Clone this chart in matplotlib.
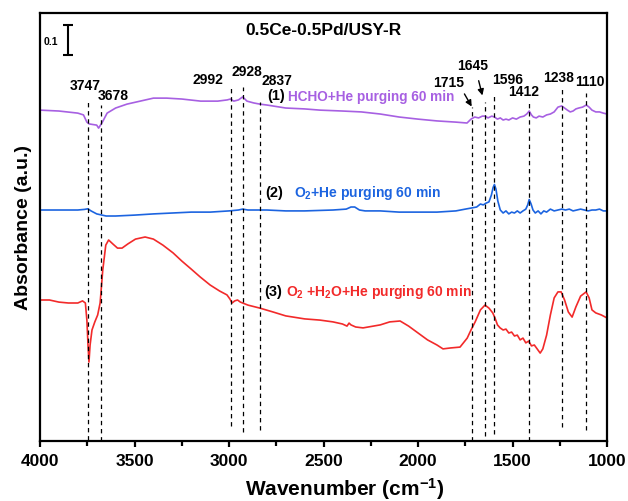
"""
In-situ DRIFTS spectra of 0.5Ce-0.5Pd/USY-R after the different purging steps.
"""

import matplotlib
matplotlib.use("Agg")
import matplotlib.pyplot as plt
import numpy as np

plt.rcParams["font.family"] = ["Liberation Sans", "DejaVu Sans"]
plt.rcParams["font.weight"] = "bold"
plt.rcParams["mathtext.fontset"] = "custom"
plt.rcParams["mathtext.default"] = "bf"
plt.rcParams["mathtext.bf"] = "Liberation Sans:bold"
plt.rcParams["mathtext.rm"] = "Liberation Sans:bold"

# (1) HCHO+He purging 60 min
wn_hcho = [4000, 3900, 3800, 3770, 3752, 3740, 3720, 3700, 3690, 3670, 3645, 3600,
           3540, 3470, 3400, 3330, 3250, 3150, 3060, 3010, 2992, 2975, 2950, 2928,
           2905, 2870, 2837, 2800, 2700, 2600, 2519, 2400, 2300, 2200, 2100, 2000,
           1900, 1800, 1741, 1720, 1700, 1680, 1660, 1645, 1630, 1610, 1596, 1580,
           1565, 1550, 1535, 1520, 1500, 1480, 1460, 1440, 1425, 1412, 1400, 1390,
           1375, 1360, 1340, 1320, 1300, 1280, 1260, 1240, 1225, 1210, 1195, 1180,
           1165, 1150, 1130, 1110, 1095, 1080, 1060, 1040, 1020, 1000]
abs_hcho = [0.003, 0.000, -0.007, -0.013, -0.037, -0.043, -0.045, -0.047, -0.057,
            -0.037, -0.007, 0.010, 0.023, 0.033, 0.043, 0.043, 0.040, 0.033,
            0.033, 0.037, 0.040, 0.033, 0.037, 0.047, 0.033, 0.027, 0.023, 0.020,
            0.010, 0.007, 0.003, 0.000, -0.003, -0.010, -0.020, -0.027, -0.033,
            -0.037, -0.040, -0.027, -0.020, -0.023, -0.017, -0.017, -0.023,
            -0.017, -0.020, -0.027, -0.023, -0.030, -0.027, -0.030, -0.023,
            -0.027, -0.020, -0.017, -0.010, 0.000, -0.013, -0.020, -0.023,
            -0.017, -0.020, -0.013, -0.010, -0.003, 0.013, 0.017, 0.010, 0.003,
            -0.003, 0.000, 0.007, 0.010, 0.013, 0.020, 0.013, 0.003, -0.003,
            -0.003, -0.007, -0.010]

# (2) O2+He purging 60 min
wn_o2 = [4000, 3900, 3800, 3765, 3747, 3730, 3700, 3650, 3600, 3500, 3400, 3300,
         3200, 3100, 3000, 2950, 2928, 2900, 2800, 2700, 2600, 2450, 2380, 2355,
         2335, 2310, 2280, 2200, 2100, 2000, 1900, 1800, 1750, 1715, 1690, 1670,
         1655, 1640, 1625, 1612, 1603, 1596, 1588, 1578, 1565, 1550, 1535, 1520,
         1505, 1490, 1475, 1460, 1445, 1430, 1420, 1412, 1402, 1392, 1380, 1365,
         1350, 1335, 1320, 1300, 1280, 1260, 1240, 1220, 1200, 1180, 1160, 1140,
         1120, 1100, 1080, 1060, 1040, 1020, 1000]
abs_o2 = [0.000, 0.000, 0.000, 0.002, 0.004, -0.003, -0.013, -0.020, -0.020,
          -0.017, -0.013, -0.010, -0.007, -0.007, -0.003, 0.000, 0.003, 0.000,
          0.000, -0.003, -0.003, 0.000, 0.003, 0.010, 0.010, 0.000, -0.003,
          -0.003, -0.007, -0.007, -0.007, -0.003, 0.003, 0.007, 0.010, 0.020,
          0.017, 0.023, 0.027, 0.050, 0.075, 0.085, 0.070, 0.030, 0.000,
          -0.010, -0.003, -0.013, -0.007, -0.010, -0.003, -0.010, -0.003,
          0.003, 0.017, 0.035, 0.020, 0.000, -0.010, -0.003, -0.013, -0.003,
          -0.007, 0.003, -0.003, 0.000, 0.003, 0.000, 0.003, -0.003, 0.000,
          0.003, 0.000, -0.003, 0.000, 0.000, 0.003, -0.003, -0.003]

# (3) O2+H2O+He purging 60 min
wn_h2o = [4000, 3950, 3900, 3850, 3800, 3775, 3760, 3752, 3746, 3741, 3735, 3725,
          3710, 3695, 3682, 3668, 3652, 3637, 3615, 3590, 3566, 3535, 3495, 3444,
          3400, 3350, 3296, 3250, 3200, 3153, 3100, 3050, 3011, 2995, 2984, 2970,
          2955, 2940, 2900, 2837, 2767, 2700, 2600, 2519, 2450, 2400, 2376, 2365,
          2355, 2330, 2291, 2200, 2150, 2095, 2050, 2000, 1950, 1900, 1868, 1830,
          1778, 1740, 1720, 1698, 1670, 1646, 1625, 1605, 1593, 1580, 1566, 1550,
          1535, 1520, 1505, 1490, 1475, 1460, 1445, 1430, 1415, 1400, 1385, 1370,
          1354, 1340, 1320, 1300, 1280, 1260, 1243, 1225, 1205, 1185, 1165, 1140,
          1111, 1095, 1080, 1060, 1030, 1000]
abs_h2o = [0.000, 0.000, -0.007, -0.010, -0.010, -0.003, -0.010, -0.067,
           -0.150, -0.207, -0.150, -0.100, -0.073, -0.050, -0.010, 0.100,
           0.183, 0.200, 0.187, 0.173, 0.173, 0.187, 0.203, 0.210, 0.203,
           0.183, 0.157, 0.130, 0.103, 0.077, 0.050, 0.030, 0.017, 0.003,
           -0.010, -0.003, 0.000, -0.007, -0.017, -0.027, -0.040, -0.053,
           -0.063, -0.067, -0.073, -0.080, -0.087, -0.077, -0.083, -0.090,
           -0.093, -0.083, -0.073, -0.070, -0.087, -0.110, -0.133, -0.150,
           -0.163, -0.160, -0.157, -0.127, -0.100, -0.073, -0.033, -0.017,
           -0.027, -0.043, -0.060, -0.083, -0.093, -0.100, -0.097, -0.110,
           -0.107, -0.120, -0.117, -0.133, -0.127, -0.143, -0.137, -0.153,
           -0.150, -0.163, -0.177, -0.163, -0.117, -0.050, 0.007, 0.027,
           0.027, 0.000, -0.040, -0.057, -0.023, 0.013, 0.027, 0.007, -0.033,
           -0.043, -0.050, -0.060]

spectra = [
    (wn_hcho, abs_hcho, 1.100, "#a760e2"),
    (wn_o2, abs_o2, 0.770, "#1c64e0"),
    (wn_h2o, abs_h2o, 0.470, "#f22a2a"),
]

# marked band positions and the extent of their guide lines
peaks = [3747, 3678, 2992, 2928, 2837, 1715, 1645, 1596, 1412, 1238, 1110]
peak_top = [1.130, 1.120, 1.177, 1.180, 1.130, 1.113, 1.130, 1.153, 1.127, 1.173, 1.160]
peak_bottom = [0.003, 0.0, 0.050, 0.030, 0.037, 0.0, 0.017, 0.023, 0.0, 0.047, 0.037]
peak_label_xy = [(3762, 1.183), (3614, 1.150), (3111, 1.203), (2905, 1.230),
                 (2746, 1.200), (1836, 1.193), (1709, 1.250), (1524, 1.203),
                 (1444, 1.163), (1259, 1.210), (1090, 1.197)]

fig = plt.figure(figsize=(6.28, 5.01), dpi=100)
ax = fig.add_axes([0.0637, 0.1198, 0.903, 0.8542])

for wn, a, off, col in spectra:
    ax.plot(wn, np.array(a) + off, color=col, lw=1.2)

ax.vlines(peaks, peak_bottom, peak_top, colors="black", lw=0.9,
          linestyles=(0, (3.5, 3)))
for p, (tx, ty) in zip(peaks, peak_label_xy):
    ax.text(tx, ty, str(p), ha="center", va="center", fontsize=10,
            fontweight="bold")

# arrows for the two crowded bands
ax.annotate("", xy=(1709, 1.107), xytext=(1762, 1.165),
            arrowprops=dict(arrowstyle="-|>", color="black", lw=1.0,
                            mutation_scale=9))
ax.annotate("", xy=(1656, 1.143), xytext=(1683, 1.210),
            arrowprops=dict(arrowstyle="-|>", color="black", lw=1.0,
                            mutation_scale=9))

# curve labels
ax.text(2799, 1.150, "(1)", ha="left", va="center", fontsize=10.5)
ax.text(2688, 1.147, "HCHO+He purging 60 min", ha="left", va="center",
        fontsize=9.8, color="#a760e2")
ax.text(2810, 0.827, "(2)", ha="left", va="center", fontsize=10.5)
ax.text(2658, 0.827, "O$_2$+He purging 60 min", ha="left", va="center",
        fontsize=10, color="#1c64e0")
ax.text(2815, 0.497, "(3)", ha="left", va="center", fontsize=10.5)
ax.text(2700, 0.497, "O$_2$ +H$_2$O+He purging 60 min", ha="left", va="center",
        fontsize=10, color="#f22a2a")

ax.text(0.5, 0.96, "0.5Ce-0.5Pd/USY-R", transform=ax.transAxes, ha="center",
        va="center", fontsize=12.5, fontweight="bold")

# 0.1 absorbance scale bar
ax.errorbar([3853], [1.337], yerr=[0.05], color="black", lw=1.5, capsize=3.5,
            capthick=1.5)
ax.text(3945, 1.330, "0.1", ha="center", va="center", fontsize=7.5)

ax.set_xlim(4000, 1000)
ax.set_ylim(0, 1.4267)
ax.set_xticks([4000, 3500, 3000, 2500, 2000, 1500, 1000])
ax.set_xticks([3750, 3250, 2750, 2250, 1750, 1250], minor=True)
ax.set_yticks([])
ax.tick_params(axis="x", which="both", direction="out", width=1.6,
               labelsize=12.5, pad=5)
ax.tick_params(axis="x", which="major", length=4.5)
ax.tick_params(axis="x", which="minor", length=3.5)
for lbl in ax.get_xticklabels():
    lbl.set_fontweight("bold")
for s in ax.spines.values():
    s.set_linewidth(1.6)

ax.set_xlabel("Wavenumber (cm$^{-1}$)", fontsize=15, fontweight="bold",
              labelpad=5)
ax.xaxis.label.set_x(0.537)
ax.set_ylabel("Absorbance (a.u.)", fontsize=14, fontweight="bold", labelpad=6)

fig.savefig("out.png", dpi=100)
